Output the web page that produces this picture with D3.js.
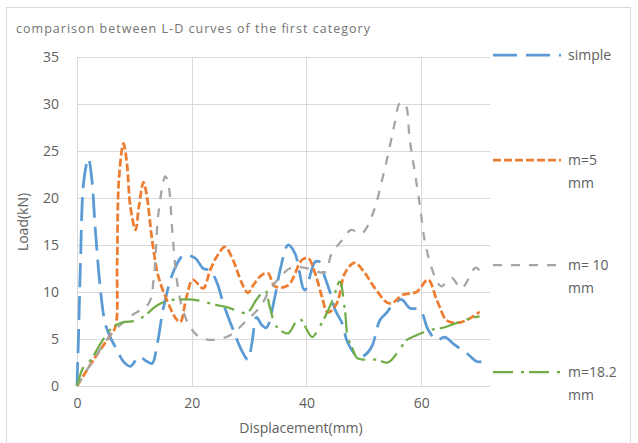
<!DOCTYPE html>
<html>
<head>
<meta charset="utf-8">
<script src="https://cdn.jsdelivr.net/npm/d3@7"></script>
<style>
  html, body { margin: 0; padding: 0; background: #fff; }
  svg { display: block; }
  text { font-family: "Open Sans", "Noto Sans", sans-serif; fill: #606060; }
</style>
</head>
<body>
<svg id="chart" width="638" height="443"></svg>
<script>
const title = "comparison between L-D curves of the first category";
const xTicks = [0, 20, 40, 60];
const yTicks = [0, 5, 10, 15, 20, 25, 30, 35];
const seriesNames = ["simple", "m=5 mm", "m= 10 mm", "m=18.2 mm"];

const simpleX = [0, 0.3, 0.6, 1.2, 2.0, 2.6, 3.2, 4.1, 4.9, 5.8, 7.0, 8.1, 9.3, 10.8, 12.2, 13.1, 14.0, 15.1, 16.9, 18.6, 20.6, 22.0, 23.2, 24.4, 25.5, 27.2, 28.7, 29.8, 30.5, 31.3, 32.2, 33.0, 34.5, 35.4, 36.8, 38.0, 39.7, 41.5, 42.3, 43.2, 44.1, 45.0, 46.2, 47.2, 49.0, 50.2, 51.4, 52.8, 54.0, 55.0, 56.6, 58.0, 59.8, 61.2, 62.7, 64.1, 65.8, 67.9, 69.7, 70.5];
const simpleY = [0, 6, 13, 21.9, 24.2, 21.9, 16.6, 10.2, 6.7, 5.2, 3.8, 2.6, 2.1, 3.1, 2.6, 2.4, 4.5, 8.4, 12.3, 13.9, 13.6, 12.5, 12.3, 11, 8.8, 6, 3.8, 2.8, 4.6, 7.3, 6.5, 6.2, 9.5, 12.3, 15, 14.1, 10.2, 13.2, 13.2, 11.6, 10, 8.1, 6.7, 4.6, 3.1, 3.3, 4.2, 7, 7.8, 8.6, 9.2, 8.3, 8.1, 6, 4.9, 5.2, 4.4, 3.5, 2.6, 2.6];

const m5X = [0, 2.9, 5.8, 6.7, 7.0, 7.3, 8.1, 8.7, 9.3, 10.2, 10.8, 11.6, 12.2, 13.1, 14.2, 15.7, 17.2, 18.0, 19.1, 20.2, 22.0, 23.2, 24.4, 25.8, 27.2, 28.7, 29.8, 30.7, 32.2, 33.3, 34.5, 36.8, 39.2, 40.3, 41.5, 42.7, 43.7, 45.3, 46.7, 48.4, 50.2, 51.6, 54.0, 54.9, 56.8, 59.2, 61.2, 62.7, 64.4, 65.8, 67.9, 70.2];
const m5Y = [0, 2.8, 5.4, 6.3, 13, 21.9, 25.8, 23.7, 19.1, 16.6, 19.1, 21.7, 20.1, 15.5, 11.6, 9.1, 7.2, 6.8, 9.5, 11.3, 10.4, 12.3, 13.8, 14.8, 13.4, 11, 9.9, 10.7, 11.8, 12, 10.6, 10.7, 13.4, 13.6, 12, 9.5, 7.8, 8.8, 12, 13.1, 12, 10.7, 8.9, 8.8, 9.7, 10, 11.3, 9.2, 7, 6.7, 7, 7.9];

const m10X = [0, 2.9, 5.8, 9.3, 12.5, 13.4, 14.2, 15.4, 16.0, 16.6, 17.4, 18.3, 19.7, 21.4, 23.7, 26.7, 29.6, 31.9, 33.6, 35.4, 37.4, 40.3, 43.2, 44.4, 46.2, 47.8, 49.6, 51.6, 53.3, 54.5, 55.4, 56.3, 57.2, 58.0, 58.9, 59.8, 60.6, 61.5, 62.5, 63.5, 65.3, 67.0, 69.5, 70.3];
const m10Y = [0, 2.8, 5.4, 7.4, 8.8, 11.6, 18.4, 22.3, 21.2, 16.6, 11.3, 8.4, 6.3, 5.2, 4.9, 5.4, 7, 8.4, 10.2, 11.6, 12.6, 12.5, 12.1, 14.1, 15.5, 16.6, 16.2, 18.4, 22.2, 25.4, 28, 30.1, 30.0, 26.2, 22.7, 19.1, 15.5, 13.2, 11.5, 10.6, 11.5, 10.4, 12.6, 12.2];

const m18X = [0, 1.2, 2.3, 4.1, 5.8, 7.6, 10.5, 12.2, 14.0, 16.0, 18.0, 20.2, 24.4, 26.1, 29.6, 31.3, 32.8, 33.6, 34.8, 36.8, 38.7, 41.0, 42.0, 43.2, 44.6, 45.8, 46.7, 47.2, 47.9, 48.8, 50.2, 52.3, 54.2, 56.6, 57.5, 59.2, 61.2, 63.8, 66.2, 68.5, 70.2];
const m18Y = [0, 2.1, 2.7, 4.5, 6, 6.7, 7, 7.7, 8.6, 9.1, 9.2, 9.2, 8.6, 8.4, 7.8, 9.2, 10.2, 8.4, 6.3, 5.6, 7.2, 5.2, 6, 7.3, 9.2, 11.1, 8.1, 5.2, 4.2, 3, 2.8, 2.8, 2.5, 4.2, 4.9, 5.4, 5.9, 6.2, 6.7, 7.2, 7.4];

const series = [
  { name: seriesNames[0], xs: simpleX, ys: simpleY, color: "#5B9BD5", width: 2.75, dash: "24,9" },
  { name: seriesNames[1], xs: m5X, ys: m5Y, color: "#ED7D31", width: 2.75, dash: "8,3" },
  { name: seriesNames[2], xs: m10X, ys: m10Y, color: "#A5A5A5", width: 2.25, dash: "9,9" },
  { name: seriesNames[3], xs: m18X, ys: m18Y, color: "#70AD47", width: 2.25, dash: "20,8,3,5" }
];

const svg = d3.select("#chart");

// chart border
svg.append("rect").attr("x", 6.5).attr("y", 7.5).attr("width", 624).attr("height", 440)
  .attr("fill", "none").attr("stroke", "#D9D9D9").attr("stroke-width", 1);

const x = d3.scaleLinear().domain([0, 72]).range([77, 490]);
const y = d3.scaleLinear().domain([0, 35]).range([386, 57]);

// gridlines
svg.append("g").selectAll("line").data(yTicks).join("line")
  .attr("x1", x(0)).attr("x2", x(72))
  .attr("y1", d => Math.round(y(d)) + 0.5).attr("y2", d => Math.round(y(d)) + 0.5)
  .attr("stroke", "#D9D9D9").attr("stroke-width", 1);
svg.append("g").selectAll("line").data(xTicks).join("line")
  .attr("x1", d => Math.round(x(d)) + 0.5).attr("x2", d => Math.round(x(d)) + 0.5)
  .attr("y1", y(35)).attr("y2", y(0))
  .attr("stroke", "#D9D9D9").attr("stroke-width", 1);

// axes labels
const yAxis = d3.axisLeft(y).tickValues(yTicks).tickSize(0).tickPadding(18);
const gy = svg.append("g").attr("transform", `translate(${x(0)},0)`).call(yAxis);
gy.select(".domain").remove();
gy.selectAll("text").style("font-size", "14px").attr("fill", "#606060").style("font-family", '"Open Sans", sans-serif');

const xAxis = d3.axisBottom(x).tickValues(xTicks).tickSize(0).tickPadding(12);
const gx = svg.append("g").attr("transform", `translate(0,${y(0)})`).call(xAxis);
gx.select(".domain").remove();
gx.selectAll("text").style("font-size", "14px").attr("fill", "#606060").style("font-family", '"Open Sans", sans-serif');

// titles
svg.append("text").attr("x", 16).attr("y", 33).text(title)
  .style("font-size", "12.5px").style("fill", "#737373")
  .attr("textLength", 354).attr("lengthAdjust", "spacing");
svg.append("text").attr("x", 301).attr("y", 433).attr("text-anchor", "middle")
  .style("font-size", "14px").text("Displacement(mm)");
svg.append("text").attr("transform", "translate(28,222) rotate(-90)").attr("text-anchor", "middle")
  .style("font-size", "14px").text("Load(kN)");

// lines
const line = d3.line().curve(d3.curveCatmullRom.alpha(0.5));
const plot = svg.append("g");
series.forEach(s => {
  const pts = s.xs.map((xv, i) => [x(xv), y(s.ys[i])]);
  plot.append("path").attr("d", line(pts))
    .attr("fill", "none").attr("stroke", s.color).attr("stroke-width", s.width)
    .attr("stroke-dasharray", s.dash);
});

// legend
const legendRows = [
  { lines: ["simple"], y: 55 },
  { lines: ["m=5", "mm"], y: 160 },
  { lines: ["m= 10", "mm"], y: 265 },
  { lines: ["m=18.2", "mm"], y: 372 }
];
series.forEach((s, i) => {
  const r = legendRows[i];
  svg.append("line").attr("x1", 493).attr("x2", 561).attr("y1", r.y).attr("y2", r.y)
    .attr("stroke", s.color).attr("stroke-width", s.width).attr("stroke-dasharray", s.dash);
  const t = svg.append("text").attr("x", 568).attr("y", r.y + 5).style("font-size", "14px");
  r.lines.forEach((ln, j) => {
    t.append("tspan").attr("x", 568).attr("dy", j === 0 ? 0 : 23).text(ln);
  });
});
</script>
</body>
</html>
